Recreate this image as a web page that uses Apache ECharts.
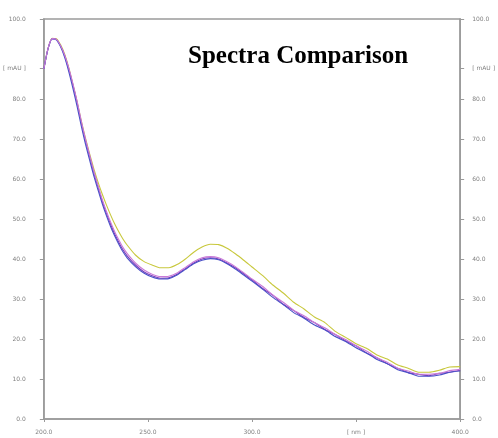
<!DOCTYPE html>
<html><head><meta charset="utf-8">
<script src="https://cdn.jsdelivr.net/npm/echarts@6/dist/echarts.min.js"></script>
<style>html,body{margin:0;padding:0;background:#fff}#c{width:498px;height:438px}</style>
</head><body><div id="c"></div>
<script>
const title = "Spectra Comparison";
const wavelengths = [200,202,204,206,208,210,212,214,216,218,220,222,224,226,228,230,232,234,236,238,240,244,248,252,256,260,264,268,272,276,280,284,288,292,296,300,305,310,315,320,325,330,335,340,345,350,355,360,365,370,375,380,385,390,395,400];
const yellowSeries = [87.5,92.6,95.2,95.1,93.6,91.2,87.8,83.6,79.3,74.5,70.2,66.3,62.6,59.3,56.3,53.6,51.1,48.8,46.8,45,43.5,41,39.4,38.5,37.8,37.8,38.6,40,41.7,43,43.7,43.6,42.7,41.3,39.7,38,35.9,33.5,31.5,29.2,27.5,25.5,24.1,21.9,20.4,18.8,17.7,16,15,13.5,12.7,11.7,11.7,12.2,13,13.1];
const purpleSeries = [87.5,92.6,95.1,94.9,93.3,90.8,87.4,83.4,79,74,69.5,65.5,61.5,58,54.5,51.5,48.8,46.3,44.2,42.3,40.8,38.5,36.8,35.8,35.2,35.3,36.2,37.6,39,40,40.3,40,39,37.8,36.3,34.8,32.7,30.9,28.7,27.1,25.4,24.1,22.4,21.1,19.5,18.3,16.5,15.3,13.8,12.7,11.6,11.2,10.8,11.4,11.7,12.2];
const blueSeries = [87.5,92.5,95,94.8,93.1,90.4,86.8,82.6,78.1,73.2,68.7,64.7,60.8,57.3,53.9,50.9,48.2,45.8,43.7,41.8,40.3,38.1,36.5,35.5,35,35.1,36,37.4,38.8,39.7,40.1,39.8,38.8,37.5,36,34.5,32.5,30.4,28.6,26.6,25.2,23.5,22.3,20.6,19.4,17.8,16.5,14.9,13.8,12.3,11.6,10.7,10.7,11,11.7,12];
const pinkSeries = [87.5,92.6,95.1,94.9,93.4,91,87.7,83.8,79.4,74.5,70,66,62,58.5,55,52,49.3,46.9,44.8,42.9,41.4,39,37.3,36.2,35.6,35.7,36.5,37.9,39.3,40.3,40.6,40.3,39.3,38.1,36.6,35,33.2,31,29.2,27.2,25.8,24.1,22.8,21.1,19.9,18.3,17,15.3,14.2,12.7,12,11.2,11.2,11.4,12.1,12.4];
const seriesColors = ["#c8c83c","#7a3db8","#4a50c8","#c97ad8"];
const seriesData = [yellowSeries, purpleSeries, blueSeries, pinkSeries];
const yLabelValues = [0,10,20,30,40,50,60,70,80,87.7,100];
const xUnit = "[ nm ]";
const yUnit = "[ mAU ]";

const axisColor = "#9a9a9a";
const labelColor = "#808080";
function yFmt(v){ return Math.abs(v-87.7)<0.01 ? yUnit : v.toFixed(1); }
function yAxisDef(pos, margin){
  return {
    type:'value', position:pos, min:0, max:100, interval:10,
    axisLine:{show:true, lineStyle:{color:axisColor, width:1.5}},
    axisTick:{show:true, inside:false, length:4, customValues:yLabelValues, lineStyle:{color:axisColor}},
    axisLabel:{show:true, customValues:yLabelValues, formatter:yFmt, fontSize:6, color:labelColor, margin:margin, fontFamily:'DejaVu Sans', align: pos==='left'?'right':'left'},
    splitLine:{show:false}
  };
}
const chart = echarts.init(document.getElementById('c'), null, {renderer:'canvas'});
chart.setOption({
  animation:false,
  backgroundColor:'#fff',
  grid:{left:42, right:35, top:19, bottom:19, show:true, borderColor:axisColor, borderWidth:1.5, backgroundColor:'transparent'},
  xAxis:{
    type:'value', min:200, max:400, interval:50,
    axisLine:{show:true, lineStyle:{color:axisColor, width:1.5}},
    axisTick:{show:true, length:3, lineStyle:{color:axisColor}},
    axisLabel:{fontSize:6, color:labelColor, margin:10, fontFamily:'DejaVu Sans',
      formatter:v => v===350 ? xUnit : v.toFixed(1)},
    splitLine:{show:false}
  },
  yAxis:[yAxisDef('left',18), yAxisDef('right',12)],
  graphic:[{type:'text', left:188, top:44, style:{text:title, font:'bold 25px "Liberation Serif"', fill:'#000'}}],
  series: seriesData.map((arr,i)=>({
    type:'line', yAxisIndex:0, showSymbol:false, smooth:0.2,
    data: wavelengths.map((w,j)=>[w, arr[j]]),
    lineStyle:{color:seriesColors[i], width:1.1},
    itemStyle:{color:seriesColors[i]}
  }))
});
</script></body></html>
